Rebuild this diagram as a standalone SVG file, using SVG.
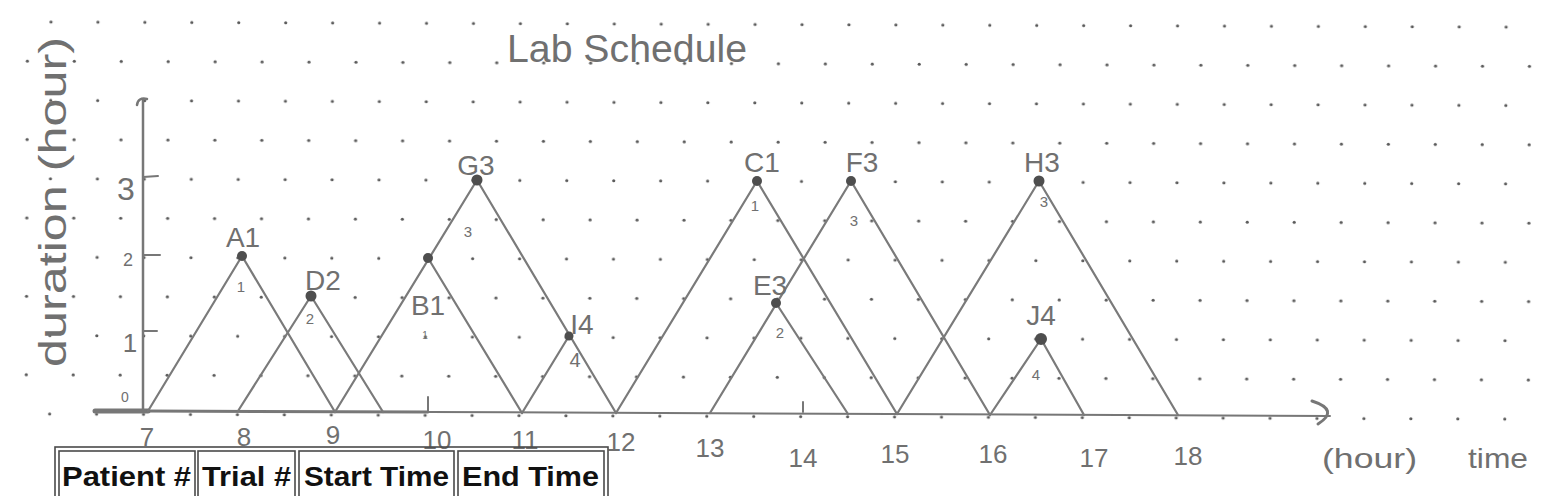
<svg xmlns="http://www.w3.org/2000/svg" width="1546" height="496" viewBox="0 0 1546 496">
<defs>
<pattern id="dots" patternUnits="userSpaceOnUse" x="39.265" y="2.4" width="46.94" height="78.4" patternTransform="rotate(0.2 51 22)">
<circle cx="11.735" cy="19.6" r="1.6" fill="#5a5a5a"/>
<circle cx="35.205" cy="58.8" r="1.6" fill="#5a5a5a"/>
</pattern>
<style>
.hand{font-family:"Liberation Sans","DejaVu Sans",sans-serif;fill:#707070;}
.lbl{font-size:28px;text-anchor:middle;}
.tiny{font-size:15px;text-anchor:middle;}
.tick{font-size:26px;text-anchor:middle;}
.leg{fill:none;stroke:#7a7a7a;stroke-width:2.2;stroke-linejoin:round;stroke-linecap:round;}
.peak{fill:#4e4e4e;}
.axis{fill:none;stroke:#777;stroke-linecap:round;}
.cell{fill:none;stroke:#4a4a4a;stroke-width:1.6;}
.hdr{font-family:"Liberation Sans",Arial,sans-serif;font-weight:bold;font-size:28px;fill:#111;}
</style>
</defs>
<rect width="1546" height="496" fill="#ffffff"/>
<rect x="15" y="10" width="1531" height="416" fill="url(#dots)"/>

<text class="hand" x="507" y="62" font-size="38" textLength="240" lengthAdjust="spacingAndGlyphs">Lab Schedule</text>
<text class="hand" transform="translate(66,202) rotate(-90)" x="-165" y="0" font-size="38" textLength="330" lengthAdjust="spacingAndGlyphs">duration (hour)</text>

<g id="axes">
<path class="axis" d="M143,412 L143,100" stroke-width="2.5"/>
<path class="axis" d="M137,105 Q138,97 147,99" stroke-width="2.5"/>
<path class="axis" d="M143,177 L158,176 M143,255 L160,255 M143,331 L157,331" stroke-width="2"/>
<path class="axis" d="M95,411 L148,411" stroke-width="5" stroke="#666"/>
<path class="axis" d="M148,411 L428,412" stroke-width="3" stroke="#858585"/>
<path class="axis" d="M428,412 L1330,416" stroke-width="2" stroke="#8a8a8a"/>
<path class="axis" d="M1312,401 Q1340,410 1318,424" stroke-width="3" stroke="#6a6a6a"/>
<path class="axis" d="M428,397 L428,412 M803,402 L803,412" stroke-width="2"/>
<text class="hand" x="126" y="200" font-size="32" text-anchor="middle">3</text>
<text class="hand" x="128" y="266" font-size="18" text-anchor="middle">2</text>
<text class="hand" x="130" y="352" font-size="26" text-anchor="middle">1</text>
<text class="hand" x="125" y="402" font-size="14" text-anchor="middle">0</text>
<text class="hand tick" x="147" y="446">7</text>
<text class="hand tick" x="244" y="446">8</text>
<text class="hand tick" x="333" y="444">9</text>
<text class="hand tick" x="437" y="449">10</text>
<text class="hand tick" x="525" y="449">11</text>
<text class="hand tick" x="621" y="451">12</text>
<text class="hand tick" x="710" y="457">13</text>
<text class="hand tick" x="803" y="467">14</text>
<text class="hand tick" x="895" y="463">15</text>
<text class="hand tick" x="993" y="463">16</text>
<text class="hand tick" x="1094" y="467">17</text>
<text class="hand tick" x="1188" y="465">18</text>
<text class="hand" x="1322" y="468" font-size="28" textLength="95" lengthAdjust="spacingAndGlyphs">(hour)</text>
<text class="hand" x="1468" y="468" font-size="28" textLength="60" lengthAdjust="spacingAndGlyphs">time</text>
</g>

<g id="connectors">
<path class="leg" d="M148,411 L242,256 L335,412"/>
<path class="leg" d="M238,411 L311,296 L383,412" stroke-width="4.5" stroke="#6e6e6e"/>
<path class="leg" d="M335,412 L477,180 L616,413"/>
<path class="leg" d="M428,258 L522,413"/>
<path class="leg" d="M522,413 L569,336"/>
<path class="leg" d="M616,413 L757,181 L897,414"/>
<path class="leg" d="M710,413 L851,181 L990,415"/>
<path class="leg" d="M776,303 L848,414"/>
<path class="leg" d="M897,414 L1039,181 L1178,415"/>
<path class="leg" d="M990,415 L1041,339 L1084,415"/>
</g>

<g id="trial-A1"><circle class="peak" cx="242" cy="256" r="5"/><text class="hand lbl" x="243" y="247">A1</text><text class="hand tiny" x="241" y="292">1</text></g>
<g id="trial-D2"><circle class="peak" cx="311" cy="296" r="5.5"/><text class="hand lbl" x="323" y="290">D2</text><text class="hand tiny" x="310" y="324">2</text></g>
<g id="trial-G3"><circle class="peak" cx="477" cy="180" r="5.5"/><text class="hand lbl" x="476" y="175">G3</text><text class="hand tiny" x="468" y="237">3</text></g>
<g id="trial-B1"><circle class="peak" cx="428" cy="258" r="5"/><text class="hand lbl" x="428" y="315">B1</text><text class="hand" x="425" y="339" font-size="10" text-anchor="middle">1</text></g>
<g id="trial-I4"><circle class="peak" cx="569" cy="336" r="4.5"/><text class="hand lbl" x="582" y="334">I4</text><text class="hand" x="575" y="367" font-size="20" text-anchor="middle">4</text></g>
<g id="trial-C1"><circle class="peak" cx="757" cy="181" r="5"/><text class="hand lbl" x="762" y="172">C1</text><text class="hand tiny" x="755" y="211">1</text></g>
<g id="trial-F3"><circle class="peak" cx="851" cy="181" r="5"/><text class="hand lbl" x="862" y="172">F3</text><text class="hand tiny" x="854" y="226">3</text></g>
<g id="trial-E3"><circle class="peak" cx="776" cy="303" r="5"/><text class="hand lbl" x="770" y="295">E3</text><text class="hand tiny" x="780" y="338">2</text></g>
<g id="trial-H3"><circle class="peak" cx="1039" cy="181" r="5.5"/><text class="hand lbl" x="1042" y="172">H3</text><text class="hand tiny" x="1044" y="207">3</text></g>
<g id="trial-J4"><circle class="peak" cx="1041" cy="339" r="6"/><text class="hand lbl" x="1041" y="325">J4</text><text class="hand tiny" x="1036" y="380">4</text></g>

<g id="table">
<rect class="cell" x="55" y="447" width="553" height="70" stroke-width="2"/>
<rect class="cell" x="59" y="451" width="136" height="62"/>
<rect class="cell" x="198" y="451" width="97" height="62"/>
<rect class="cell" x="299" y="451" width="155" height="62"/>
<rect class="cell" x="458" y="451" width="146" height="62"/>
<text class="hdr" x="62" y="486" textLength="129" lengthAdjust="spacingAndGlyphs">Patient #</text>
<text class="hdr" x="202" y="486" textLength="89" lengthAdjust="spacingAndGlyphs">Trial #</text>
<text class="hdr" x="304" y="486" textLength="145" lengthAdjust="spacingAndGlyphs">Start Time</text>
<text class="hdr" x="462" y="486" textLength="137" lengthAdjust="spacingAndGlyphs">End Time</text>
</g>
</svg>
